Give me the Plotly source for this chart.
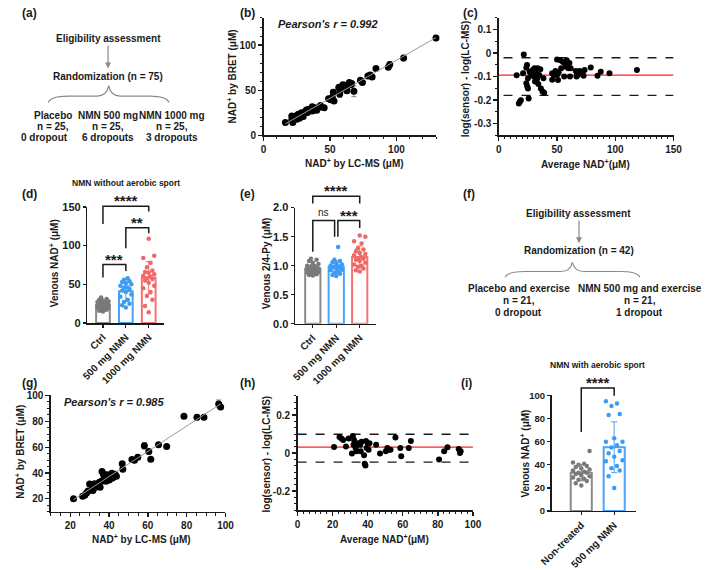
import numpy as np
import plotly.graph_objects as go

W, H = 709, 570
FONT = "Liberation Sans, Arial, Helvetica, sans-serif"
INK = "#1a1a1a"

# ---------------- data ----------------
# (b) NMN without sport: LC-MS vs BRET
b_lcms = [16.4, 21.2, 21.2, 22.0, 23.7, 24.9, 26.1, 27.3, 28.5, 29.8, 31.0, 32.2, 33.4, 34.6,
          35.9, 36.6, 37.8, 39.5, 41.5, 42.8, 45.6, 48.9, 50.6, 51.7, 52.5, 53.0, 56.6, 57.3,
          57.8, 58.5, 59.7, 62.7, 63.2, 63.9, 64.6, 65.6, 66.3, 68.0, 72.9, 74.4, 78.5, 80.3,
          81.7, 84.6, 93.9, 95.0, 105.4, 129.8, 25.0, 30.0, 33.0, 38.0, 40.0, 27.0, 22.5, 36.5]
b_bret = [14.4, 17.3, 21.6, 14.4, 20.1, 18.0, 23.4, 20.9, 25.2, 20.9, 26.3, 28.1, 28.8, 27.3,
          29.9, 31.7, 28.1, 29.9, 30.9, 33.1, 30.6, 40.6, 39.6, 42.4, 47.8, 38.1, 53.2, 46.0,
          50.4, 54.0, 56.1, 49.6, 55.0, 56.8, 58.6, 56.1, 57.6, 48.9, 61.2, 58.6, 65.8, 66.9,
          64.7, 74.1, 75.5, 78.4, 85.6, 107.9, 22.0, 24.0, 25.5, 31.0, 28.0, 19.0, 18.5, 27.0]
b_err = [1, 1, 1, 1, 1, 1, 1, 1, 1, 1, 1, 1, 1, 1,
         1, 1, 1, 1, 2, 2, 1, 2, 3, 2, 3, 2, 3, 4,
         2, 2, 2, 3, 4, 3, 2, 2, 2, 6, 2, 2, 1, 2,
         2, 1, 2, 3, 3, 3, 1, 1, 1, 1, 1, 1, 1, 1]

# (c) Bland-Altman, without sport
c_avg = [15.3, 21.4, 20.8, 18.0, 17.2, 18.9, 23.6, 24.2, 25.0, 23.6, 24.4, 25.0, 25.6, 26.4,
         27.8, 29.2, 30.0, 30.6, 31.1, 31.9, 32.8, 33.3, 33.9, 34.7, 35.6, 36.1, 37.5, 38.9,
         38.3, 45.8, 45.8, 47.2, 48.6, 50.0, 50.8, 51.4, 50.0, 52.8, 53.6, 55.0, 56.1, 56.9,
         57.8, 58.3, 58.9, 59.7, 60.6, 61.1, 61.7, 66.1, 66.7, 67.2, 68.0, 69.4, 71.7, 72.8,
         73.6, 78.9, 84.7, 87.5, 95.0, 118.6]
c_diff = [-0.094, -0.006, -0.086, -0.207, -0.214, -0.201, -0.062, -0.051, -0.107, -0.128,
          -0.142, -0.151, -0.193, -0.079, -0.090, -0.072, -0.100, -0.065, -0.121, -0.086,
          -0.110, -0.065, -0.132, -0.093, -0.069, -0.151, -0.163, -0.169, -0.107, -0.114,
          -0.086, -0.093, -0.076, -0.093, -0.115, -0.082, -0.028, -0.031, -0.065, -0.038,
          -0.100, -0.044, -0.058, -0.031, -0.054, -0.065, -0.042, -0.100, -0.065, -0.076,
          -0.100, -0.088, -0.093, -0.076, -0.086, -0.097, -0.072, -0.061, -0.097, -0.079,
          -0.086, -0.072]
c_bias, c_upper, c_lower = -0.094, -0.020, -0.180

# (d) venous NAD+ without sport
d_groups = ["Ctrl", "500 mg NMN", "1000 mg NMN"]
d_mean = [23.0, 41.0, 58.5]
d_sd = [6.0, 13.0, 21.0]
d_ctrl = [33, 31, 30, 29, 28, 27, 27, 26, 25, 25, 24, 24, 23, 23, 22, 22, 21, 20, 20, 19, 18,
          17, 16, 15, 22]
d_500 = [58, 56, 54, 53, 51, 50, 48, 46, 44, 42, 40, 37, 34, 30, 27, 25, 23, 46, 20]
d_1000 = [109, 87, 84, 78, 72, 68, 66, 65, 63, 61, 60, 58, 57, 55, 52, 48, 45, 40, 35, 30, 22, 14]

# (e) venous 2/4-Py
e_groups = ["Ctrl", "500 mg NMN", "1000 mg NMN"]
e_mean = [0.95, 0.975, 1.15]
e_sd = [0.07, 0.11, 0.19]
e_ctrl = [1.12, 1.10, 1.08, 1.05, 1.03, 1.00, 0.99, 0.98, 0.97, 0.96, 0.95, 0.95, 0.94, 0.93,
          0.92, 0.92, 0.91, 0.90, 0.89, 0.88, 0.87, 0.86, 0.85, 0.84, 0.83]
e_500 = [1.32, 1.10, 1.08, 1.06, 1.04, 1.02, 1.00, 0.99, 0.98, 0.97, 0.95, 0.93, 0.92, 0.90,
         0.88, 0.86, 0.84, 0.82, 0.97]
e_1000 = [1.52, 1.50, 1.42, 1.38, 1.30, 1.28, 1.25, 1.22, 1.20, 1.18, 1.15, 1.12, 1.10, 1.08,
          1.05, 1.02, 1.00, 0.98, 0.95, 0.92, 0.90, 1.12]

# (g) with sport: LC-MS vs BRET
g_lcms = [21.7, 26.4, 27.5, 28.4, 29.2, 31.0, 31.7, 32.6, 34.2, 35.0, 35.4, 36.1, 36.4, 37.1,
          37.6, 38.4, 38.9, 40.1, 41.4, 42.1, 43.1, 43.8, 46.8, 47.1, 51.8, 53.1, 54.8, 58.2,
          60.5, 61.5, 65.5, 69.7, 78.6, 85.3, 88.9, 96.5, 97.5, 41.5, 33.0, 30.0, 37.5]
g_bret = [20.0, 22.0, 22.8, 24.5, 26.0, 31.0, 26.5, 31.6, 30.8, 32.8, 29.0, 33.6, 41.1, 39.1,
          34.6, 33.6, 38.6, 34.6, 39.9, 36.6, 39.1, 37.4, 47.2, 42.9, 50.4, 49.9, 52.2, 61.0,
          56.7, 50.7, 61.8, 60.5, 83.9, 83.1, 83.1, 93.5, 91.0, 36.0, 29.0, 31.5, 36.0]
g_err = [0, 0, 0, 0, 0, 0, 0, 0, 0, 0, 0, 0, 1.5, 0,
         0, 0, 0, 0, 0, 0, 0, 0, 0, 0, 0, 0, 0, 2.5,
         0, 0, 0, 0, 0, 2, 0, 3, 0, 0, 0, 0, 0]

# (h) Bland-Altman, with sport
h_avg = [20.8, 23.9, 25.0, 26.0, 27.6, 29.1, 31.0, 31.5, 32.2, 31.9, 33.1, 33.7, 34.6, 35.7,
         36.0, 36.5, 37.9, 38.3, 38.7, 39.0, 39.4, 40.1, 40.5, 41.0, 44.8, 47.0, 50.3, 51.2,
         52.1, 53.0, 55.8, 58.6, 59.1, 63.4, 64.6, 80.7, 83.6, 85.5, 91.9, 92.6, 93.0]
h_diff = [0.032, 0.085, 0.077, 0.068, 0.034, 0.077, -0.003, 0.090, 0.068, 0.043, 0.026, 0.009,
          0.051, 0.043, 0.009, 0.060, -0.012, -0.056, -0.065, 0.063, 0.026, 0.046, 0.017, 0.051,
          0.043, -0.003, 0.009, 0.026, 0.017, 0.017, 0.082, 0.026, -0.017, 0.026, 0.063, -0.034,
          0.009, 0.031, 0.021, 0.000, 0.009]
h_bias, h_upper, h_lower = 0.031, 0.099, -0.048

# (i) venous NAD+ with sport
i_groups = ["Non-treated", "500 mg NMN"]
i_mean = [33.2, 55.2]
i_sd = [7.0, 22.0]
i_ctrl = [52, 42, 41, 40, 39, 38, 37, 36, 35, 34, 33, 32, 31, 30, 29, 28, 27, 26, 24, 22, 33]
i_500 = [95, 93, 91, 84, 83, 35, 63, 55, 60, 60, 57, 52, 50, 47, 44, 43, 39, 37, 30, 20]

# ---------------- layout geometry (pixel boxes) ----------------
PAN = {
    "b": dict(ax="", x=(259.3, 437.2), xr=(0, 130), y=(12.3, 132.7), yr=(0, 130)),
    "c": dict(ax="2", x=(501.7, 681.7), xr=(0, 150), y=(12.0, 132.7), yr=(-0.35, 0.15)),
    "d": dict(ax="3", x=(77.7, 156.7), xr=(-0.68, 2.67), y=(206.0, 325.0), yr=(0, 150)),
    "e": dict(ax="4", x=(291.7, 375.0), xr=(-0.756, 2.69), y=(206.7, 325.7), yr=(0, 2.0)),
    "g": dict(ax="5", x=(40.0, 220.0), xr=(10, 100), y=(399.3, 518.5), yr=(10, 100)),
    "h": dict(ax="6", x=(294.3, 475.0), xr=(0, 100), y=(399.8, 516.8), yr=(-0.3, 0.3)),
    "i": dict(ax="7", x=(556.0, 643.3), xr=(-0.903, 1.67), y=(399.3, 517.7), yr=(0, 100)),
}
GRAY, GRAYP = "#8a8a8a", "#7a7a7a"
BLUE, BLUEP = "#4aa3f5", "#3d9bf2"
RED, REDP = "#f27373", "#f06868"


def to_paper(p, xv, yv):
    P = PAN[p]
    x0, x1 = P["x"]
    a, b = P["xr"]
    X = x0 + (xv - a) / (b - a) * (x1 - x0)
    y0, y1 = P["y"]
    c, d = P["yr"]
    Y = y1 - (yv - c) / (d - c) * (y1 - y0)
    return X / W, 1 - Y / H


def ids(p):
    a = PAN[p]["ax"]
    return "x" + a, "y" + a


fig = go.Figure()

# ---- (b) ----
xa, ya = ids("b")
fig.add_trace(go.Scatter(x=b_lcms, y=b_bret, mode="markers", cliponaxis=False,
                         marker=dict(size=7, color="black"),
                         error_y=dict(type="data", array=b_err, color="#808080", thickness=1, width=2.5),
                         xaxis=xa, yaxis=ya))
k, q = np.polyfit(b_lcms, b_bret, 1)
lx = [min(b_lcms), max(b_lcms)]
fig.add_trace(go.Scatter(x=lx, y=[k * v + q for v in lx], mode="lines",
                         line=dict(color="#9a9a9a", width=1), xaxis=xa, yaxis=ya))

# ---- (c) ----
xa, ya = ids("c")
fig.add_trace(go.Scatter(x=[4, 150], y=[c_upper] * 2, mode="lines",
                         line=dict(color=INK, width=1.4, dash="dash"), xaxis=xa, yaxis=ya))
fig.add_trace(go.Scatter(x=[4, 150], y=[c_lower] * 2, mode="lines",
                         line=dict(color=INK, width=1.4, dash="dash"), xaxis=xa, yaxis=ya))
fig.add_trace(go.Scatter(x=[0, 150], y=[c_bias] * 2, mode="lines",
                         line=dict(color="#ff1f1f", width=1.4), xaxis=xa, yaxis=ya))
fig.add_trace(go.Scatter(x=c_avg, y=c_diff, mode="markers", cliponaxis=False,
                         marker=dict(size=6, color="black"), xaxis=xa, yaxis=ya))

# ---- (g) ----
xa, ya = ids("g")
fig.add_trace(go.Scatter(x=g_lcms, y=g_bret, mode="markers", cliponaxis=False,
                         marker=dict(size=7, color="black"),
                         error_y=dict(type="data", array=g_err, color="#808080", thickness=1, width=2.5),
                         xaxis=xa, yaxis=ya))
k, q = np.polyfit(g_lcms, g_bret, 1)
lx = [min(g_lcms), max(g_lcms)]
fig.add_trace(go.Scatter(x=lx, y=[k * v + q for v in lx], mode="lines",
                         line=dict(color="#9a9a9a", width=1), xaxis=xa, yaxis=ya))

# ---- (h) ----
xa, ya = ids("h")
fig.add_trace(go.Scatter(x=[0, 100], y=[h_upper] * 2, mode="lines",
                         line=dict(color=INK, width=1.4, dash="dash"), xaxis=xa, yaxis=ya))
fig.add_trace(go.Scatter(x=[0, 100], y=[h_lower] * 2, mode="lines",
                         line=dict(color=INK, width=1.4, dash="dash"), xaxis=xa, yaxis=ya))
fig.add_trace(go.Scatter(x=[0, 100], y=[h_bias] * 2, mode="lines",
                         line=dict(color="#ff1f1f", width=1.4), xaxis=xa, yaxis=ya))
fig.add_trace(go.Scatter(x=h_avg, y=h_diff, mode="markers", cliponaxis=False,
                         marker=dict(size=6, color="black"), xaxis=xa, yaxis=ya))

# ---- bar panels ----
OFFS = [0.0, -0.16, 0.16, -0.08, 0.08, -0.24, 0.24]


def bar_panel(p, means, sds, groups, cols, pcols, width, spread):
    xa, ya = ids(p)
    for j, (m, s, vals, col, pc) in enumerate(zip(means, sds, groups, cols, pcols)):
        fig.add_trace(go.Bar(x=[j], y=[m], width=width,
                             marker=dict(color="white", line=dict(color=col, width=2)),
                             error_y=dict(type="data", array=[s], color=col, thickness=1, width=3),
                             xaxis=xa, yaxis=ya))
        sv = sorted(vals)
        xs = [j + OFFS[n % len(OFFS)] * spread for n in range(len(sv))]
        fig.add_trace(go.Scatter(x=xs, y=sv, mode="markers", cliponaxis=False,
                                 marker=dict(size=4.5, color=pc), xaxis=xa, yaxis=ya))


bar_panel("d", d_mean, d_sd, [d_ctrl, d_500, d_1000], [GRAY, BLUE, RED], [GRAYP, BLUEP, REDP], 0.6, 1.0)
bar_panel("e", e_mean, e_sd, [e_ctrl, e_500, e_1000], [GRAY, BLUE, RED], [GRAYP, BLUEP, REDP], 0.65, 1.0)
bar_panel("i", i_mean, i_sd, [i_ctrl, i_500], [GRAY, BLUE], [GRAYP, BLUEP], 0.64, 1.05)

# ---------------- axes ----------------
def tf(size):
    return dict(family=FONT, size=size, color=INK, weight="bold")


def axis(p, which, tickvals, ticktext=None, minor=None, **kw):
    P = PAN[p]
    if which == "x":
        dom = [P["x"][0] / W, P["x"][1] / W]
        rng = list(P["xr"])
        anchor = "y" + P["ax"]
    else:
        dom = [1 - P["y"][1] / H, 1 - P["y"][0] / H]
        rng = list(P["yr"])
        anchor = "x" + P["ax"]
    d = dict(domain=dom, range=rng, anchor=anchor, showline=True, linecolor=INK, linewidth=1.5,
             ticks="outside", ticklen=4, tickwidth=1.3, tickcolor=INK, showgrid=False,
             zeroline=False, tickfont=tf(10), tickmode="array", tickvals=tickvals,
             ticktext=ticktext if ticktext is not None else [str(v) for v in tickvals],
             fixedrange=True)
    if minor is not None:
        d["minor"] = dict(tickmode="array", tickvals=minor, ticks="outside", ticklen=2.5,
                          tickwidth=1, tickcolor=INK, showgrid=False)
    d.update(kw)
    key = ("xaxis" if which == "x" else "yaxis") + P["ax"]
    return key, d


axes = [
    axis("b", "x", [0, 50, 100], minor=list(range(0, 131, 10))),
    axis("b", "y", [0, 50, 100], minor=list(range(0, 131, 10))),
    axis("c", "x", [0, 50, 100, 150], minor=list(range(0, 151, 5))),
    axis("c", "y", [-0.3, -0.2, -0.1, 0, 0.1], ["-0.3", "-0.2", "-0.1", "0", "0.1"],
         minor=[round(-0.35 + 0.05 * n, 3) for n in range(11)]),
    axis("d", "x", [0, 1, 2], d_groups, tickangle=-45, tickfont=tf(10), ticklen=3),
    axis("d", "y", [0, 50, 100, 150], tickfont=tf(11), ticklen=3),
    axis("e", "x", [0, 1, 2], e_groups, tickangle=-45, tickfont=tf(10), ticklen=3),
    axis("e", "y", [0, 0.5, 1.0, 1.5, 2.0], ["0.0", "0.5", "1.0", "1.5", "2.0"],
         tickfont=tf(11), ticklen=3),
    axis("g", "x", [20, 40, 60, 80, 100], minor=list(range(10, 101, 5))),
    axis("g", "y", [20, 40, 60, 80, 100], minor=list(range(10, 101, 5))),
    axis("h", "x", [0, 20, 40, 60, 80, 100], minor=[round(n * 20 / 6, 3) for n in range(31)]),
    axis("h", "y", [-0.2, 0, 0.2], ["-0.2", "0", "0.2"],
         minor=[round(-0.3 + n * 0.2 / 6, 4) for n in range(19)]),
    axis("i", "x", [0, 1], i_groups, tickangle=-45, tickfont=tf(10), ticklen=3),
    axis("i", "y", [0, 20, 40, 60, 80, 100], tickfont=tf(9.5), ticklen=3),
]
layout_axes = {k: v for k, v in axes}

# ---------------- annotations & shapes ----------------
ann = []
shapes = []


def txt(x, y, s, size=10, bold=True, xanchor="center", yanchor="middle", angle=0, color=INK,
        italic=False):
    ann.append(dict(x=x / W, y=1 - y / H, xref="paper", yref="paper", text=s, showarrow=False,
                    xanchor=xanchor, yanchor=yanchor, textangle=angle,
                    font=dict(family=FONT, size=size, color=color,
                              weight="bold" if bold else "normal",
                              style="italic" if italic else "normal")))


# panel labels
for lab, x, y in [("(a)", 8, 7), ("(b)", 233, 7), ("(c)", 463, 7),
                  ("(d)", 8, 193), ("(e)", 233, 193), ("(f)", 463, 193),
                  ("(g)", 8, 387), ("(h)", 233, 387), ("(i)", 461, 387)]:
    txt(x, y, lab, size=12, xanchor="left")

# axis titles
NADp = "NAD<sup>+</sup>"
txt(227, 72, NADp + " by BRET (μM)", angle=-90)
txt(352.7, 161, NADp + " by LC-MS (μM)")
txt(467, 75, "log(sensor) - log(LC-MS)", angle=-90)
txt(590.7, 161.7, "Average " + NADp + "(μM)")
txt(43, 264, "Venous " + NADp + " (μM)", angle=-90)
txt(262.5, 264, "Venous 2/4-Py (μM)", angle=-90)
txt(8.3, 457, NADp + " by BRET (μM)", angle=-90)
txt(133.3, 546, NADp + " by LC-MS (μM)")
txt(262.5, 459, "log(sensor) - log(LC-MS)", angle=-90)
txt(383.7, 546.7, "Average " + NADp + "(μM)")
txt(528.5, 459, "Venous " + NADp + " (μM)", angle=-90)

# Pearson
txt(271.7, 18, "Pearson's r = 0.992", size=11, xanchor="left", italic=True)
txt(51.7, 406, "Pearson's r = 0.985", size=11, xanchor="left", italic=True)

# panel titles
txt(117, 181.7, "NMN without aerobic sport", size=8.5)
txt(603, 368, "NMN with aerobic sport", size=8.5)

# flowchart (a)
txt(99, 33.3, "Eligibility assessment")
txt(99, 72.7, "Randomization (n = 75)")
for cx, lines in [(42, ["Placebo", "n = 25,", "0 dropout"]),
                  (98.7, ["NMN 500 mg", "n = 25,", "6 dropouts"]),
                  (165, ["NMN 1000 mg", "n = 25,", "3 dropouts"])]:
    for s, yy in zip(lines, [112, 124, 135.3]):
        txt(cx - (8 if s == "0 dropout" else 0), yy, s)
# flowchart (f)
txt(584.3, 212.3, "Eligibility assessment")
txt(584.3, 251, "Randomization (n = 42)")
for cx, lines in [(522.3, ["Placebo and exercise", "n = 21,", "0 dropout"]),
                  (646.7, ["NMN 500 mg and exercise", "n = 21,", "1 dropout"])]:
    for s, yy in zip(lines, [290, 302, 314]):
        txt(cx, yy, s)

# arrows
for x, y0, y1 in [(99, 39.5, 64), (584.3, 219.3, 243.3)]:
    ann.append(dict(x=x / W, y=1 - y1 / H, xref="paper", yref="paper", ax=0, ay=-(y1 - y0),
                    axref="pixel", ayref="pixel", text="", showarrow=True, arrowhead=2,
                    arrowsize=1, arrowwidth=1.2, arrowcolor="#8a8a8a"))


def brace(xl, xr, ytop, ybot):
    xm = (xl + xr) / 2
    ymid = ytop + (ybot - ytop) * 0.62
    pts = [("M", xl, ybot), ("Q", xl + 3, ymid, xl + 20, ymid), ("L", xm - 12, ymid),
           ("Q", xm - 2, ymid, xm, ytop), ("Q", xm + 2, ymid, xm + 12, ymid),
           ("L", xr - 20, ymid), ("Q", xr - 3, ymid, xr, ybot)]
    parts = []
    for p in pts:
        cmd = p[0]
        coords = p[1:]
        cs = []
        for n in range(0, len(coords), 2):
            cs.append(f"{coords[n] / W:.5f},{1 - coords[n + 1] / H:.5f}")
        parts.append(cmd + " " + " ".join(cs))
    shapes.append(dict(type="path", xref="paper", yref="paper", path=" ".join(parts),
                       line=dict(color="#8a8a8a", width=1.2)))


brace(37.3, 162, 81.7, 99)
brace(508, 647, 262.7, 278)


# significance brackets
def bracket(p, xa_, xb_, ytop, ya_, yb_, label, size=15, bold=True, yshift=-5):
    X1, Yt = to_paper(p, xa_, ytop)
    X2, _ = to_paper(p, xb_, ytop)
    _, Ya = to_paper(p, xa_, ya_)
    _, Yb = to_paper(p, xb_, yb_)
    shapes.append(dict(type="path", xref="paper", yref="paper",
                       path=f"M {X1:.5f},{Ya:.5f} L {X1:.5f},{Yt:.5f} L {X2:.5f},{Yt:.5f} L {X2:.5f},{Yb:.5f}",
                       line=dict(color=INK, width=1.5)))
    ann.append(dict(x=(X1 + X2) / 2, y=Yt, xref="paper", yref="paper", text=label,
                    showarrow=False, xanchor="center", yanchor="bottom", yshift=yshift,
                    font=dict(family=FONT, size=size, color=INK,
                              weight="bold" if bold else "normal")))


bracket("d", 0, 2, 151, 128, 144, "****")
bracket("d", 1, 2, 123, 96.6, 116, "**")
bracket("d", 0, 1, 75.6, 58.8, 67.2, "***")
bracket("e", 0, 2, 2.197, 2.07, 2.07, "****")
bracket("e", 0, 0.93, 1.777, 1.24, 1.5, "ns", size=10, bold=False, yshift=1)
bracket("e", 1.07, 2, 1.777, 1.5, 1.65, "***")
bracket("i", 0, 1, 106.4, 68.4, 99.7, "****")

fig.update_layout(width=W, height=H, margin=dict(l=0, r=0, t=0, b=0),
                  paper_bgcolor="white", plot_bgcolor="rgba(0,0,0,0)", showlegend=False,
                  barmode="overlay", annotations=ann, shapes=shapes,
                  font=dict(family=FONT, color=INK), **layout_axes)

fig.write_html("out.html", config={"displayModeBar": False, "staticPlot": True},
               post_script="document.body.style.margin='0px';document.body.style.overflow='hidden';")
